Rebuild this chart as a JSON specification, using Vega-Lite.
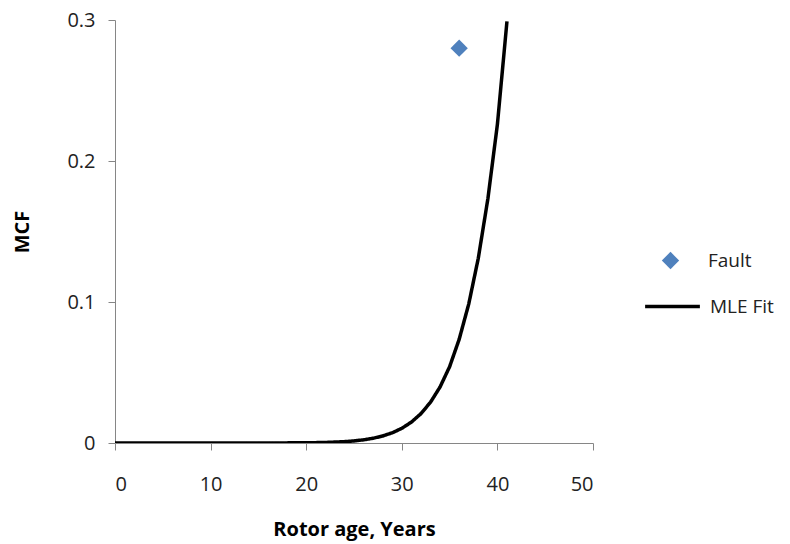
{
  "$schema": "https://vega.github.io/schema/vega-lite/v6.json",
  "width": 478,
  "height": 423,
  "autosize": {"type": "none"},
  "padding": {"left": 115, "top": 20, "right": 197, "bottom": 101},
  "background": "white",
  "config": {
    "view": {"stroke": null},
    "font": "Open Sans",
    "axis": {"grid": false, "domainColor": "#868686", "tickColor": "#868686", "labelColor": "#222222", "labelFont": "Open Sans", "labelFontSize": 20, "titleFont": "Open Sans", "titleFontSize": 20, "titleFontWeight": "bold", "titleColor": "#000000", "tickSize": 7},
    "legend": {"labelFont": "Open Sans", "labelFontSize": 19, "labelColor": "#222222"}
  },
  "datasets": {
    "fault": [{"age": 36, "mcf": 0.28, "series": "Fault"}],
    "fit": [
      {"age": 0, "mcf": 0, "series": "MLE Fit"},
      {"age": 5, "mcf": 0, "series": "MLE Fit"},
      {"age": 10, "mcf": 0, "series": "MLE Fit"},
      {"age": 15, "mcf": 0.00001, "series": "MLE Fit"},
      {"age": 20, "mcf": 0.00014, "series": "MLE Fit"},
      {"age": 22, "mcf": 0.00038, "series": "MLE Fit"},
      {"age": 24, "mcf": 0.00096, "series": "MLE Fit"},
      {"age": 25, "mcf": 0.00148, "series": "MLE Fit"},
      {"age": 26, "mcf": 0.00225, "series": "MLE Fit"},
      {"age": 27, "mcf": 0.00337, "series": "MLE Fit"},
      {"age": 28, "mcf": 0.00497, "series": "MLE Fit"},
      {"age": 29, "mcf": 0.00724, "series": "MLE Fit"},
      {"age": 30, "mcf": 0.0104, "series": "MLE Fit"},
      {"age": 31, "mcf": 0.0148, "series": "MLE Fit"},
      {"age": 32, "mcf": 0.0208, "series": "MLE Fit"},
      {"age": 33, "mcf": 0.0289, "series": "MLE Fit"},
      {"age": 34, "mcf": 0.0397, "series": "MLE Fit"},
      {"age": 35, "mcf": 0.0541, "series": "MLE Fit"},
      {"age": 36, "mcf": 0.0735, "series": "MLE Fit"},
      {"age": 37, "mcf": 0.0985, "series": "MLE Fit"},
      {"age": 38, "mcf": 0.131, "series": "MLE Fit"},
      {"age": 39, "mcf": 0.173, "series": "MLE Fit"},
      {"age": 40, "mcf": 0.226, "series": "MLE Fit"},
      {"age": 41, "mcf": 0.299, "series": "MLE Fit"}
    ]
  },
  "layer": [
    {
      "data": {"name": "fit"},
      "mark": {"type": "line", "color": "black", "strokeWidth": 3.5, "clip": true},
      "encoding": {
        "x": {"field": "age", "type": "quantitative", "scale": {"domain": [0, 50], "nice": false}, "axis": {"values": [0, 10, 20, 30, 40, 50], "title": "Rotor age, Years", "labelPadding": 24, "titlePadding": 25}},
        "y": {"field": "mcf", "type": "quantitative", "scale": {"domain": [0, 0.3], "nice": false}, "axis": {"values": [0, 0.1, 0.2, 0.3], "format": "~g", "title": "MCF", "labelPadding": 13, "titlePadding": 34}},
        "strokeDash": {"field": "series", "type": "nominal", "scale": {"domain": ["MLE Fit"], "range": [[1, 0]]}, "legend": {"title": null, "orient": "none", "legendX": 528, "legendY": 257, "symbolType": "stroke", "symbolSize": 3000, "symbolStrokeWidth": 3.5, "symbolStrokeColor": "black", "labelOffset": 8}}
      }
    },
    {
      "data": {"name": "fault"},
      "mark": {"type": "point", "shape": "diamond", "filled": true, "color": "#4F81BD", "opacity": 1, "size": 300},
      "encoding": {
        "x": {"field": "age", "type": "quantitative"},
        "y": {"field": "mcf", "type": "quantitative"},
        "shape": {"field": "series", "type": "nominal", "scale": {"domain": ["Fault"], "range": ["diamond"]}, "legend": {"title": null, "orient": "none", "legendX": 546, "legendY": 231, "symbolFillColor": "#4F81BD", "symbolStrokeColor": "#4F81BD", "symbolSize": 300, "symbolOpacity": 1, "labelOffset": 28}}
      }
    }
  ]
}
